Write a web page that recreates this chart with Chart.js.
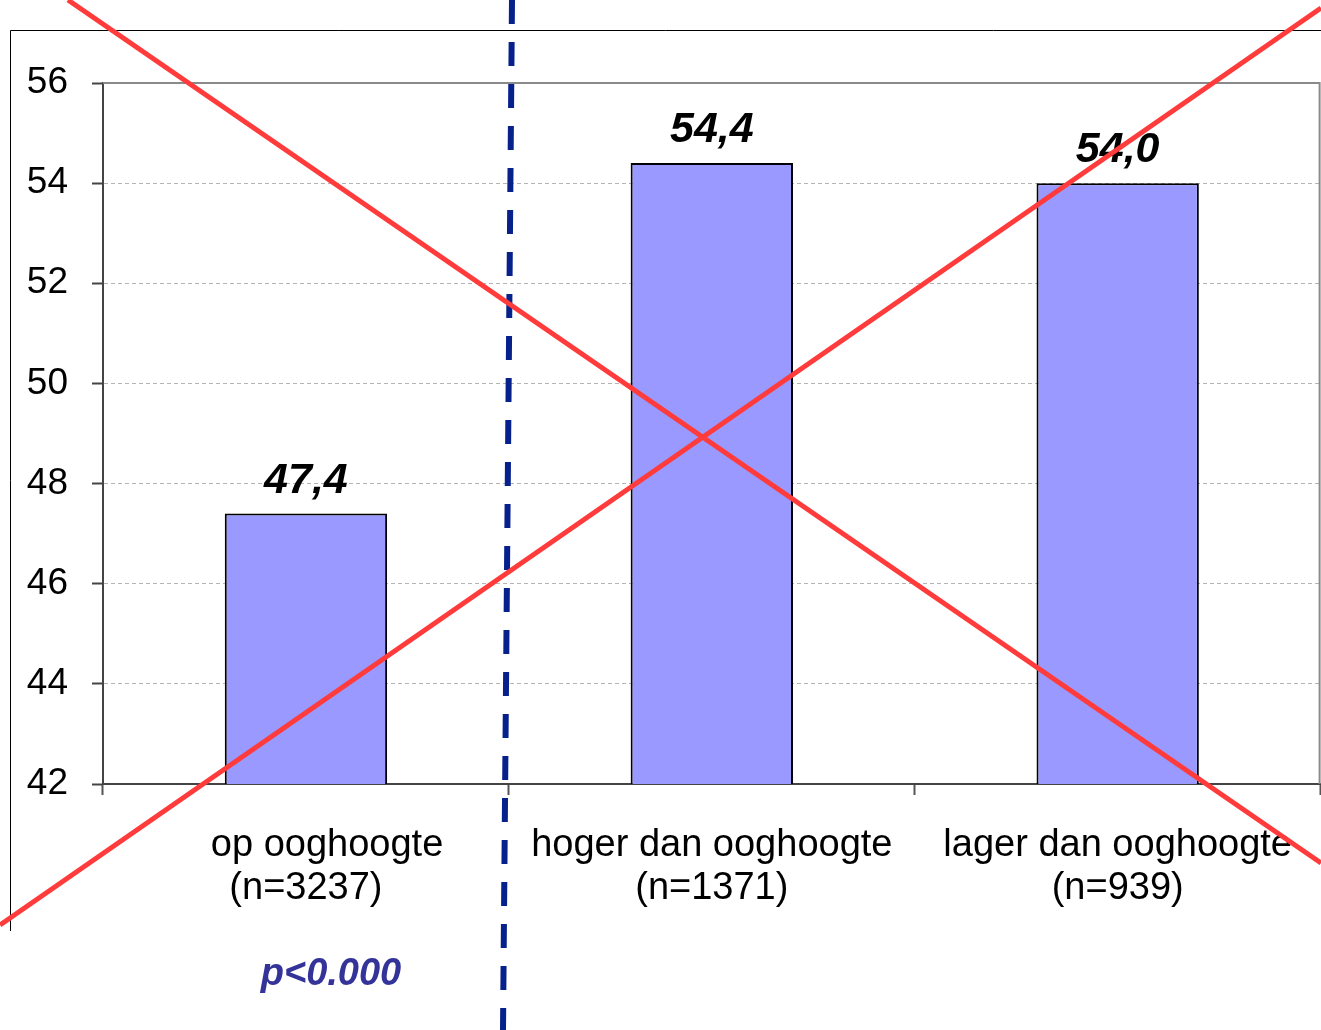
<!DOCTYPE html>
<html>
<head>
<meta charset="utf-8">
<script src="https://cdn.jsdelivr.net/npm/chart.js@4/dist/chart.umd.min.js"></script>
<style>
  html, body { margin: 0; padding: 0; background: #fff; }
  canvas { display: block; }
</style>
</head>
<body>
<canvas id="chart" width="1321" height="1030"></canvas>
<script>
// Gegevens uit de grafiek
const categories = [
  ["    op ooghoogte", "(n=3237)"],
  ["hoger dan ooghoogte", "(n=1371)"],
  ["lager dan ooghoogte", "(n=939)"]
];
const values = [47.4, 54.4, 54.0];
const yTicks = [42, 44, 46, 48, 50, 52, 54, 56];
const pText = "p<0.000";

const FONT = "'Liberation Sans', Arial, sans-serif";

// Kader, waarden boven de staven, stippellijn en rode kruis
const overlay = {
  id: "overlay",
  beforeDraw(chart) {
    const ctx = chart.ctx;
    ctx.save();
    ctx.fillStyle = "#fff";
    ctx.fillRect(0, 0, chart.width, chart.height);
    // buitenkader
    ctx.strokeStyle = "#000";
    ctx.lineWidth = 1;
    ctx.beginPath();
    ctx.moveTo(10.5, 931);
    ctx.lineTo(10.5, 30.5);
    ctx.lineTo(1321, 30.5);
    ctx.stroke();
    ctx.restore();
  },
  beforeDatasetsDraw(chart) {
    const ctx = chart.ctx;
    const a = chart.chartArea;
    ctx.save();
    ctx.strokeStyle = "#8a8a8a";
    ctx.lineWidth = 2;
    ctx.beginPath();
    ctx.moveTo(a.left, a.top);
    ctx.lineTo(a.right - 1, a.top);
    ctx.lineTo(a.right - 1, a.bottom);
    ctx.stroke();
    ctx.restore();
  },
  afterDatasetsDraw(chart) {
    const ctx = chart.ctx;
    const meta = chart.getDatasetMeta(0);
    ctx.save();
    ctx.fillStyle = "#000";
    ctx.font = "italic bold 43px " + FONT;
    ctx.textAlign = "center";
    ctx.textBaseline = "alphabetic";
    meta.data.forEach((bar, i) => {
      ctx.fillText(values[i].toFixed(1).replace(".", ","), bar.x, bar.y - 21);
    });

    // p-waarde
    ctx.fillStyle = "#333399";
    ctx.font = "italic bold 38px " + FONT;
    ctx.textBaseline = "middle";
    ctx.fillText(pText, 331, 975);

    // blauwe stippellijn
    ctx.strokeStyle = "#06208c";
    ctx.lineWidth = 6;
    ctx.setLineDash([24, 18]);
    ctx.beginPath();
    ctx.moveTo(512, 0);
    ctx.lineTo(503, 1030);
    ctx.stroke();
    ctx.setLineDash([]);

    // rood kruis
    ctx.strokeStyle = "#ff3b3b";
    ctx.lineWidth = 5;
    ctx.beginPath();
    ctx.moveTo(68, 0);
    ctx.lineTo(1321, 863);
    ctx.moveTo(0, 925);
    ctx.lineTo(1321, 8);
    ctx.stroke();
    ctx.restore();
  }
};

new Chart(document.getElementById("chart"), {
  type: "bar",
  data: {
    labels: categories,
    datasets: [{
      data: values,
      backgroundColor: "#9999ff",
      borderColor: "#000",
      borderWidth: 2,
      borderSkipped: false,
      categoryPercentage: 1,
      barPercentage: 0.4
    }]
  },
  options: {
    responsive: false,
    animation: false,
    devicePixelRatio: 1,
    layout: { padding: { left: 0, top: 83, right: 0, bottom: 0 } },
    plugins: {
      legend: { display: false },
      tooltip: { enabled: false }
    },
    scales: {
      x: {
        afterFit(scale) { scale.height = 246; },
        grid: {
          offset: true,
          drawOnChartArea: false,
          drawTicks: true,
          tickLength: 11,
          tickColor: "#555",
          tickWidth: 2
        },
        border: { display: true, color: "#444", width: 2 },
        ticks: {
          color: "#000",
          padding: 29,
          maxRotation: 0,
          autoSkip: false,
          font: { family: FONT, size: 38, lineHeight: 1.13 }
        }
      },
      y: {
        min: 42,
        max: 56,
        afterFit(scale) { scale.width = 103; },
        afterBuildTicks(scale) { scale.ticks = yTicks.map(v => ({ value: v })); },
        grid: {
          color: ctx => (ctx.tick && (ctx.tick.value === 42 || ctx.tick.value === 56)) ? "rgba(0,0,0,0)" : "#b4b4b4",
          lineWidth: 1,
          tickLength: 11,
          tickColor: "#444",
          tickWidth: 2,
          tickBorderDash: []
        },
        border: { display: true, color: "#444", width: 2, dash: [4, 3] },
        ticks: {
          color: "#000",
          padding: 24,
          font: { family: FONT, size: 37 }
        }
      }
    }
  },
  plugins: [overlay]
});
</script>
</body>
</html>
